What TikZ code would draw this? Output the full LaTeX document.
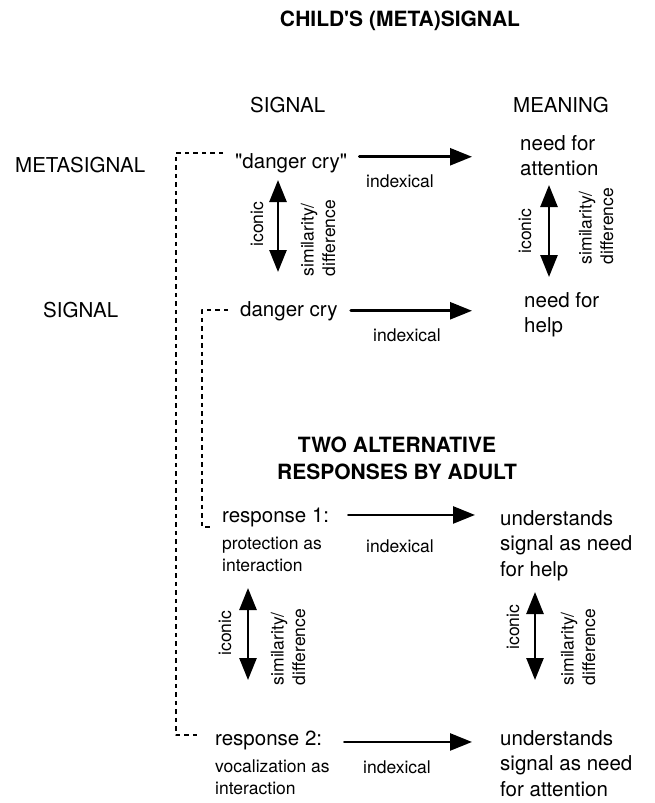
\documentclass[tikz,border=0pt]{standalone}
\usepackage{fontspec}
\setmainfont{TeX Gyre Heros}
\usetikzlibrary{arrows.meta,positioning,calc}

\begin{document}
\begin{tikzpicture}[x=1pt,y=-1pt,line cap=round,line join=round,
  txt/.style={inner sep=0pt,font=\fontsize{20.5}{25.5}\selectfont},
  sm/.style={inner sep=0pt,font=\fontsize{17.5}{21.5}\selectfont},
  hd/.style={inner sep=0pt,align=center,font=\fontsize{21}{27}\selectfont\bfseries},
  idx/.style={line width=2.6pt,-{Triangle[length=22pt,width=17pt]}},
  ico/.style={line width=2.6pt,{Triangle[length=22pt,width=17pt]}-{Triangle[length=22pt,width=17pt]}},
  link/.style={line width=1.8pt,line cap=butt,dash pattern=on 4.5pt off 4pt}]
  \useasboundingbox (0,0) rectangle (654,803);

  % headings
  \node[hd,anchor=base] (title) at (400,27) {CHILD\textquotesingle S (META)SIGNAL};
  \node[txt,anchor=base west] (hsig) at (250,112) {SIGNAL};
  \node[txt,anchor=base west] (hmean) at (513,112) {MEANING};
  \node[txt,anchor=base west] (lmeta) at (15,172) {METASIGNAL};
  \node[txt,anchor=base west] (lsig) at (43,317) {SIGNAL};

  % child's signals and meanings
  \node[txt,anchor=base west] (dcq) at (235,168) {\textquotedbl danger cry\textquotedbl};
  \node[txt,anchor=base west] (dc) at (240,316) {danger cry};
  \node[txt,anchor=north west,align=left] (attn) at (520,135) {need for\\attention};
  \node[txt,anchor=north west,align=left] (help) at (524,292) {need for\\help};

  % adult responses
  \node[hd] (two) at (397,458) {TWO ALTERNATIVE\\RESPONSES BY ADULT};
  \node[txt,anchor=base west] (resp1) at (222,522) {response 1:};
  \node[sm,anchor=north west,align=left] (resp1d) at (222,537) {protection as\\interaction};
  \node[txt,anchor=base west] (resp2) at (215,745) {response 2:};
  \node[sm,anchor=north west,align=left] (resp2d) at (215,760) {vocalization as\\interaction};
  \node[txt,anchor=north west,align=left] (und1) at (500,510) {understands\\signal as need\\for help};
  \node[txt,anchor=north west,align=left] (und2) at (500,730) {understands\\signal as need\\for attention};

  % indexical links
  \node[sm,anchor=base] (ixA) at (400,187) {indexical};
  \node[sm,anchor=base] (ixB) at (407,341) {indexical};
  \node[sm,anchor=base] (ixC) at (400,552) {indexical};
  \node[sm,anchor=base] (ixD) at (397,773) {indexical};
  \draw[idx] ([shift={(12,-6)}]dcq.east) -- ([shift={(-48,-6)}]dcq.east -| attn.west);
  \draw[idx] ([shift={(13,0)}]dc.east) -- ([shift={(-52,0)}]dc.east -| help.west);
  \draw[idx] ([shift={(19,-2)}]resp1.east) -- ([shift={(-25,-2)}]resp1.east -| und1.west);
  \draw[idx] ([shift={(22,2)}]resp2.east) -- ([shift={(-28,2)}]resp2.east -| und2.west);

  % iconic links
  \coordinate (icA1) at (278,180);
  \coordinate (icA2) at (278,272);
  \coordinate (icB1) at (549,185);
  \coordinate (icB2) at (549,277);
  \coordinate (icC1) at (248,588);
  \coordinate (icC2) at (248,680);
  \coordinate (icD1) at (535,592);
  \coordinate (icD2) at (535,680);
  \draw[ico] (icA1) -- (icA2);
  \draw[ico] (icB1) -- (icB2);
  \draw[ico] (icC1) -- (icC2);
  \draw[ico] (icD1) -- (icD2);
  \node[sm,rotate=90] (iconA) at (257,224) {iconic};
  \node[sm,rotate=90] (iconB) at (525,231) {iconic};
  \node[sm,rotate=90] (iconC) at (225,633) {iconic};
  \node[sm,rotate=90] (iconD) at (513,627) {iconic};
  \node[sm,rotate=90,align=left] (simA) at (318,238) {similarity/\\difference};
  \node[sm,rotate=90,align=left] (simB) at (596,226) {similarity/\\difference};
  \node[sm,rotate=90,align=left] (simC) at (288,647) {similarity/\\difference};
  \node[sm,rotate=90,align=left] (simD) at (578,647) {similarity/\\difference};

  % dashed brackets
  \draw[link] ([shift={(-12,-10)}]dcq.west) -| ([shift={(-39,-5)}]resp2.west) -- ([shift={(-17,-5)}]resp2.west);
  \draw[link] ([shift={(-12,-1)}]dc.west) -| ([shift={(-20,10)}]resp1.west) -- ([shift={(-9,10)}]resp1.west);
\end{tikzpicture}
\end{document}
